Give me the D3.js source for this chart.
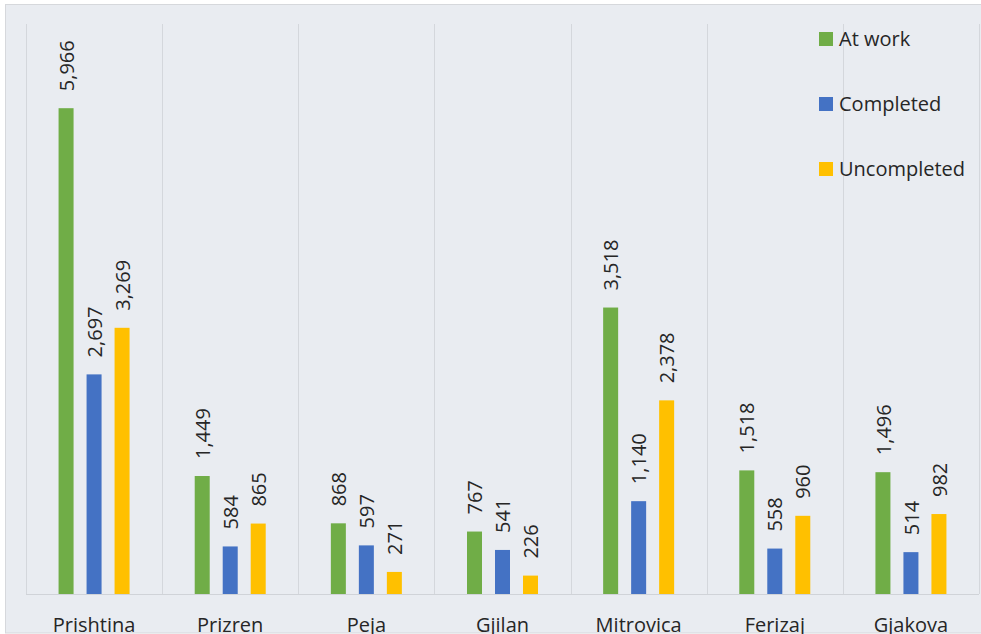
<!DOCTYPE html>
<html>
<head>
<meta charset="utf-8">
<script src="https://cdn.jsdelivr.net/npm/d3@7"></script>
<style>
  html, body { margin: 0; padding: 0; background: #ffffff; }
  svg { display: block; }
  text { font-family: "Open Sans", "Noto Sans", sans-serif; fill: #262626; }
</style>
</head>
<body>
<svg id="chart" width="981" height="634"></svg>
<script>
// Projects per region, by status
const regions = ["Prishtina", "Prizren", "Peja", "Gjilan", "Mitrovica", "Ferizaj", "Gjakova"];
const seriesNames = ["At work", "Completed", "Uncompleted"];
const atWork = [5966, 1449, 868, 767, 3518, 1518, 1496];
const completed = [2697, 584, 597, 541, 1140, 558, 514];
const uncompleted = [3269, 865, 271, 226, 2378, 960, 982];
const seriesColors = ["#70AD47", "#4472C4", "#FFC000"];
const yMax = 7000;

const seriesValues = [atWork, completed, uncompleted];
const W = 981, H = 634;
const plot = { left: 26, right: 979, top: 24, bottom: 594 };

const svg = d3.select("#chart");

// chart area background and frame
svg.append("rect")
  .attr("x", 5.5).attr("y", 4.5)
  .attr("width", W - 5).attr("height", H - 5.5)
  .attr("fill", "#E9ECF1")
  .attr("stroke", "#D6D8DC").attr("stroke-width", 1);

const x = d3.scaleBand().domain(regions).range([plot.left, plot.right]).padding(0);
const y = d3.scaleLinear().domain([0, yMax]).range([plot.bottom, plot.top]);

// offsets of each series inside a category
const barW = 15, step = 28;
const xs = d3.scaleOrdinal().domain(seriesNames).range([-step, 0, step]);

// vertical separators between categories
const bounds = regions.map(r => x(r)).concat([x(regions[regions.length - 1]) + x.bandwidth()]);
svg.append("g").selectAll("line").data(bounds).join("line")
  .attr("x1", d => Math.round(d) + 0.5).attr("x2", d => Math.round(d) + 0.5)
  .attr("y1", plot.top).attr("y2", plot.bottom)
  .attr("stroke", "#D4D7DC").attr("stroke-width", 1);

// bars
const rows = [];
regions.forEach((r, i) => {
  seriesNames.forEach((s, j) => rows.push({ region: r, series: s, value: seriesValues[j][i], color: seriesColors[j] }));
});

const gBars = svg.append("g");
gBars.selectAll("rect").data(rows).join("rect")
  .attr("x", d => x(d.region) + x.bandwidth() / 2 + xs(d.series) - barW / 2)
  .attr("y", d => y(d.value))
  .attr("width", barW)
  .attr("height", d => y(0) - y(d.value))
  .attr("fill", d => d.color);

// value labels, rotated
const fmt = d3.format(",");
svg.append("g").selectAll("text").data(rows).join("text")
  .attr("transform", d => {
    const cx = x(d.region) + x.bandwidth() / 2 + xs(d.series);
    return `translate(${cx + 0.5},${y(d.value) - 17}) rotate(-90)`;
  })
  .attr("dy", "0.36em")
  .attr("text-anchor", "start")
  .attr("font-size", 20)
  .text(d => fmt(d.value));

// category axis
const xAxis = svg.append("g")
  .attr("transform", `translate(0,${plot.bottom})`)
  .call(d3.axisBottom(x).tickSize(0).tickPadding(0));
xAxis.select(".domain").attr("stroke", "#D0D3D8").attr("d", `M${plot.left},0.5H${plot.right}`);
xAxis.selectAll("text")
  .attr("font-size", 20)
  .attr("fill", "#262626")
  .attr("font-family", "'Open Sans', 'Noto Sans', sans-serif")
  .attr("dy", null)
  .attr("y", 38);

// legend
const legend = svg.append("g").attr("transform", "translate(819,32)");
const li = legend.selectAll("g").data(seriesNames).join("g")
  .attr("transform", (d, i) => `translate(0,${i * 65})`);
li.append("rect").attr("width", 14).attr("height", 14)
  .attr("fill", (d, i) => seriesColors[i]);
li.append("text").attr("x", 20).attr("y", 14).attr("font-size", 20).text(d => d);
</script>
</body>
</html>
